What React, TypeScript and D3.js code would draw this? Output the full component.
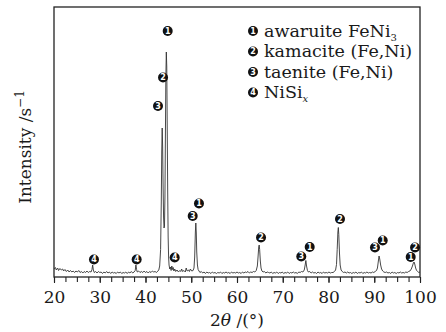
import { useRef, useEffect } from 'react';
import * as d3 from 'd3';

// XRD pattern: [2theta, intensity]
const pattern: [number, number][] = [
  [20.0, 16], [20.3, 19], [20.5, 14], [20.8, 18], [21.0, 13], [21.3, 17], [21.6, 14], [21.9, 16],
  [22.1, 12], [22.4, 15], [22.7, 11], [23.0, 14], [23.3, 10], [23.6, 13], [23.9, 10], [24.2, 12],
  [24.5, 9], [24.8, 12], [25.1, 10], [25.4, 13], [25.7, 9], [26.0, 11], [26.3, 8], [26.6, 11],
  [26.9, 9], [27.2, 12], [27.5, 9], [27.8, 11], [28.1, 10], [28.3, 15], [28.45, 24], [28.6, 14],
  [28.8, 9], [29.1, 11], [29.4, 8], [29.7, 11], [30.0, 9], [30.3, 10], [30.6, 7], [30.9, 10],
  [31.2, 8], [31.5, 11], [31.8, 8], [32.1, 10], [32.4, 7], [32.7, 10], [33.0, 8], [33.3, 9],
  [33.6, 7], [33.9, 10], [34.2, 8], [34.5, 10], [34.8, 7], [35.1, 9], [35.4, 8], [35.7, 10],
  [36.0, 7], [36.3, 10], [36.6, 8], [36.9, 11], [37.2, 8], [37.5, 10], [37.75, 13], [37.9, 24],
  [38.05, 15], [38.2, 10], [38.5, 12], [38.8, 9], [39.1, 11], [39.4, 9], [39.7, 12], [40.0, 9],
  [40.3, 11], [40.6, 8], [40.9, 11], [41.2, 9], [41.5, 12], [41.8, 10], [42.1, 11], [42.4, 9],
  [42.7, 12], [42.9, 14], [43.1, 22], [43.3, 55], [43.45, 150], [43.55, 250], [43.65, 298],
  [43.75, 260], [43.85, 180], [43.95, 120], [44.05, 98], [44.15, 102], [44.25, 160], [44.35, 280],
  [44.45, 400], [44.55, 450], [44.65, 420], [44.75, 300], [44.85, 170], [44.95, 80], [45.05, 40],
  [45.15, 24], [45.3, 16], [45.45, 20], [45.6, 13], [45.75, 22], [45.9, 15], [46.05, 19],
  [46.2, 12], [46.4, 16], [46.6, 11], [46.9, 14], [47.2, 10], [47.5, 13], [47.7, 11], [47.9, 16],
  [48.1, 11], [48.4, 13], [48.7, 10], [48.9, 18], [49.1, 12], [49.4, 14], [49.6, 11], [49.8, 16],
  [50.1, 12], [50.4, 13], [50.6, 18], [50.75, 40], [50.9, 90], [51.0, 108], [51.1, 88],
  [51.2, 50], [51.35, 24], [51.5, 15], [51.7, 12], [51.9, 9], [52.2, 11], [52.5, 8], [52.8, 10],
  [53.1, 7], [53.4, 10], [53.7, 8], [54.0, 9], [54.3, 7], [54.6, 10], [54.9, 8], [55.2, 9],
  [55.5, 7], [55.8, 9], [56.1, 8], [56.4, 10], [56.7, 7], [57.0, 9], [57.3, 8], [57.6, 10],
  [57.9, 8], [58.2, 9], [58.5, 7], [58.8, 10], [59.1, 8], [59.4, 9], [59.7, 8], [60.0, 10],
  [60.3, 8], [60.6, 9], [60.9, 7], [61.2, 10], [61.5, 8], [61.8, 10], [62.1, 9], [62.4, 11],
  [62.7, 8], [63.0, 10], [63.3, 9], [63.6, 11], [63.9, 10], [64.2, 13], [64.45, 22], [64.6, 40],
  [64.75, 60], [64.85, 64], [64.95, 55], [65.1, 32], [65.25, 18], [65.45, 12], [65.7, 10],
  [66.0, 11], [66.3, 8], [66.6, 10], [66.9, 9], [67.2, 8], [67.5, 10], [67.8, 7], [68.1, 9],
  [68.4, 8], [68.7, 10], [69.0, 7], [69.3, 9], [69.6, 8], [69.9, 10], [70.2, 7], [70.5, 9],
  [70.8, 8], [71.1, 10], [71.4, 7], [71.7, 9], [72.0, 8], [72.3, 10], [72.6, 8], [72.9, 9],
  [73.2, 7], [73.5, 10], [73.8, 9], [74.1, 11], [74.4, 10], [74.7, 14], [74.9, 24], [75.05, 33],
  [75.2, 22], [75.4, 13], [75.6, 10], [75.9, 11], [76.2, 8], [76.5, 10], [76.8, 8], [77.1, 9],
  [77.4, 7], [77.7, 10], [78.0, 8], [78.3, 9], [78.6, 7], [78.9, 10], [79.2, 8], [79.5, 9],
  [79.8, 8], [80.1, 10], [80.4, 8], [80.7, 9], [81.0, 9], [81.3, 11], [81.55, 14], [81.75, 25],
  [81.9, 55], [82.05, 90], [82.15, 99], [82.25, 85], [82.4, 48], [82.55, 24], [82.75, 14],
  [83.0, 11], [83.3, 9], [83.6, 10], [83.9, 8], [84.2, 10], [84.5, 8], [84.8, 9], [85.1, 7],
  [85.4, 9], [85.7, 8], [86.0, 10], [86.3, 7], [86.6, 9], [86.9, 8], [87.2, 10], [87.5, 7],
  [87.8, 9], [88.1, 8], [88.4, 10], [88.7, 8], [89.0, 9], [89.3, 8], [89.6, 10], [89.9, 9],
  [90.2, 11], [90.5, 13], [90.7, 18], [90.9, 32], [91.05, 42], [91.2, 36], [91.4, 24], [91.6, 16],
  [91.85, 12], [92.1, 10], [92.4, 9], [92.7, 10], [93.0, 8], [93.3, 9], [93.6, 7], [93.9, 10],
  [94.2, 8], [94.5, 9], [94.8, 7], [95.1, 9], [95.4, 8], [95.7, 10], [96.0, 8], [96.3, 9],
  [96.6, 8], [96.9, 10], [97.2, 9], [97.5, 11], [97.8, 12], [98.1, 16], [98.35, 22], [98.55, 28],
  [98.7, 30], [98.85, 26], [99.05, 18], [99.25, 13], [99.5, 11], [99.75, 9], [100.0, 10],
];

// phase labels placed over the peaks
const markPhases = [1, 2, 3, 4, 4, 4, 1, 3, 2, 1, 3, 2, 3, 1, 1, 2];
const markAngles = [44.85, 43.83, 42.73, 28.74, 38.07, 46.38, 51.69, 50.32, 65.25, 75.89, 74.05, 82.51, 90.16, 91.85, 97.97, 98.91];
const markCounts = [492, 399, 342, 35, 35, 39, 147, 122, 79, 60, 41, 116, 59, 73, 40, 59];

const legendNames = ['awaruite FeNi', 'kamacite (Fe,Ni)', 'taenite (Fe,Ni)', 'NiSi'];
const legendSubs = ['3', '', '', 'x'];

const xTicks = [20, 30, 40, 50, 60, 70, 80, 90, 100];

const serif = "'DejaVu Serif', serif";

export default function App() {
  const svgRef = useRef<SVGSVGElement>(null);

  useEffect(() => {
    const width = 446;
    const height = 332;
    const margin = { top: 7, right: 26, bottom: 55, left: 54 };

    const svg = d3.select(svgRef.current);
    svg.selectAll('*').remove();

    svg.append('rect').attr('width', width).attr('height', height).attr('fill', '#fff');

    const x = d3.scaleLinear().domain([20, 100]).range([margin.left, width - margin.right]);
    const y = d3.scaleLinear().domain([0, 540]).range([height - margin.bottom, margin.top]);

    // minor ticks every 2.5
    const minor = svg.append('g')
      .attr('transform', `translate(0,${height - margin.bottom})`)
      .call(d3.axisBottom(x).tickValues(d3.range(20, 100.01, 2.5)).tickSize(5).tickFormat(() => ''));
    minor.select('.domain').remove();
    minor.selectAll('line').attr('stroke', '#222').attr('stroke-width', 1.1);

    // major ticks + labels
    const major = svg.append('g')
      .attr('transform', `translate(0,${height - margin.bottom})`)
      .call(d3.axisBottom(x).tickValues(xTicks).tickSize(6).tickFormat(d3.format('d')));
    major.select('.domain').remove();
    major.selectAll('line').attr('stroke', '#222').attr('stroke-width', 1.1);
    major.selectAll('text')
      .attr('y', 26)
      .attr('dy', null)
      .attr('fill', '#1a1a1a')
      .style('font-family', serif)
      .style('font-size', '17px');

    // frame
    svg.append('rect')
      .attr('x', x(20))
      .attr('y', margin.top)
      .attr('width', x(100) - x(20))
      .attr('height', y(0) - margin.top)
      .attr('fill', 'none')
      .attr('stroke', '#222')
      .attr('stroke-width', 1.3);

    // pattern
    const line = d3.line<[number, number]>()
      .x(d => x(d[0]))
      .y(d => y(d[1]));
    svg.append('path')
      .datum(pattern)
      .attr('d', line)
      .attr('fill', 'none')
      .attr('stroke', '#333')
      .attr('stroke-width', 0.9)
      .attr('stroke-linejoin', 'round');

    const badge = (g: d3.Selection<SVGGElement, unknown, null, undefined>, cx: number, cy: number, n: number) => {
      g.append('circle').attr('cx', cx).attr('cy', cy).attr('r', 5).attr('fill', '#111');
      g.append('text')
        .attr('x', cx)
        .attr('y', cy + 2.9)
        .attr('text-anchor', 'middle')
        .attr('fill', '#fff')
        .style('font-family', "'DejaVu Sans', sans-serif")
        .style('font-weight', 'bold')
        .style('font-size', '8px')
        .text(n);
    };

    const marks = svg.append('g');
    markPhases.forEach((p, i) => badge(marks, x(markAngles[i]), y(markCounts[i]), p));

    // legend
    const legend = svg.append('g');
    legendNames.forEach((name, i) => {
      const cy = 31 + i * 20.5;
      badge(legend, 253, cy, i + 1);
      const t = legend.append('text')
        .attr('x', 264)
        .attr('y', cy + 5.5)
        .attr('fill', '#1a1a1a')
        .style('font-family', serif)
        .style('font-size', '17.5px')
        .text(name);
      if (legendSubs[i]) {
        t.append('tspan')
          .attr('dy', 4)
          .style('font-size', '10px')
          .style('font-style', legendSubs[i] === 'x' ? 'italic' : 'normal')
          .text(legendSubs[i]);
      }
    });

    // axis titles
    const xt = svg.append('text')
      .attr('x', (x(20) + x(100)) / 2)
      .attr('y', 326)
      .attr('text-anchor', 'middle')
      .attr('fill', '#1a1a1a')
      .style('font-family', serif)
      .style('font-size', '17px');
    xt.append('tspan').text('2');
    xt.append('tspan').style('font-style', 'italic').text('θ');
    xt.append('tspan').text(' /(°)');

    const yt = svg.append('text')
      .attr('transform', `translate(31,${(margin.top + y(0)) / 2 + 5}) rotate(-90)`)
      .attr('text-anchor', 'middle')
      .attr('fill', '#1a1a1a')
      .style('font-family', serif)
      .style('font-size', '17px');
    yt.append('tspan').text('Intensity /s');
    yt.append('tspan').attr('dy', -7).style('font-size', '12px').text('−1');
  }, []);

  return (
    <svg
      ref={svgRef}
      width={446}
      height={332}
      style={{ position: 'absolute', left: 0, top: 0, display: 'block' }}
    />
  );
}
